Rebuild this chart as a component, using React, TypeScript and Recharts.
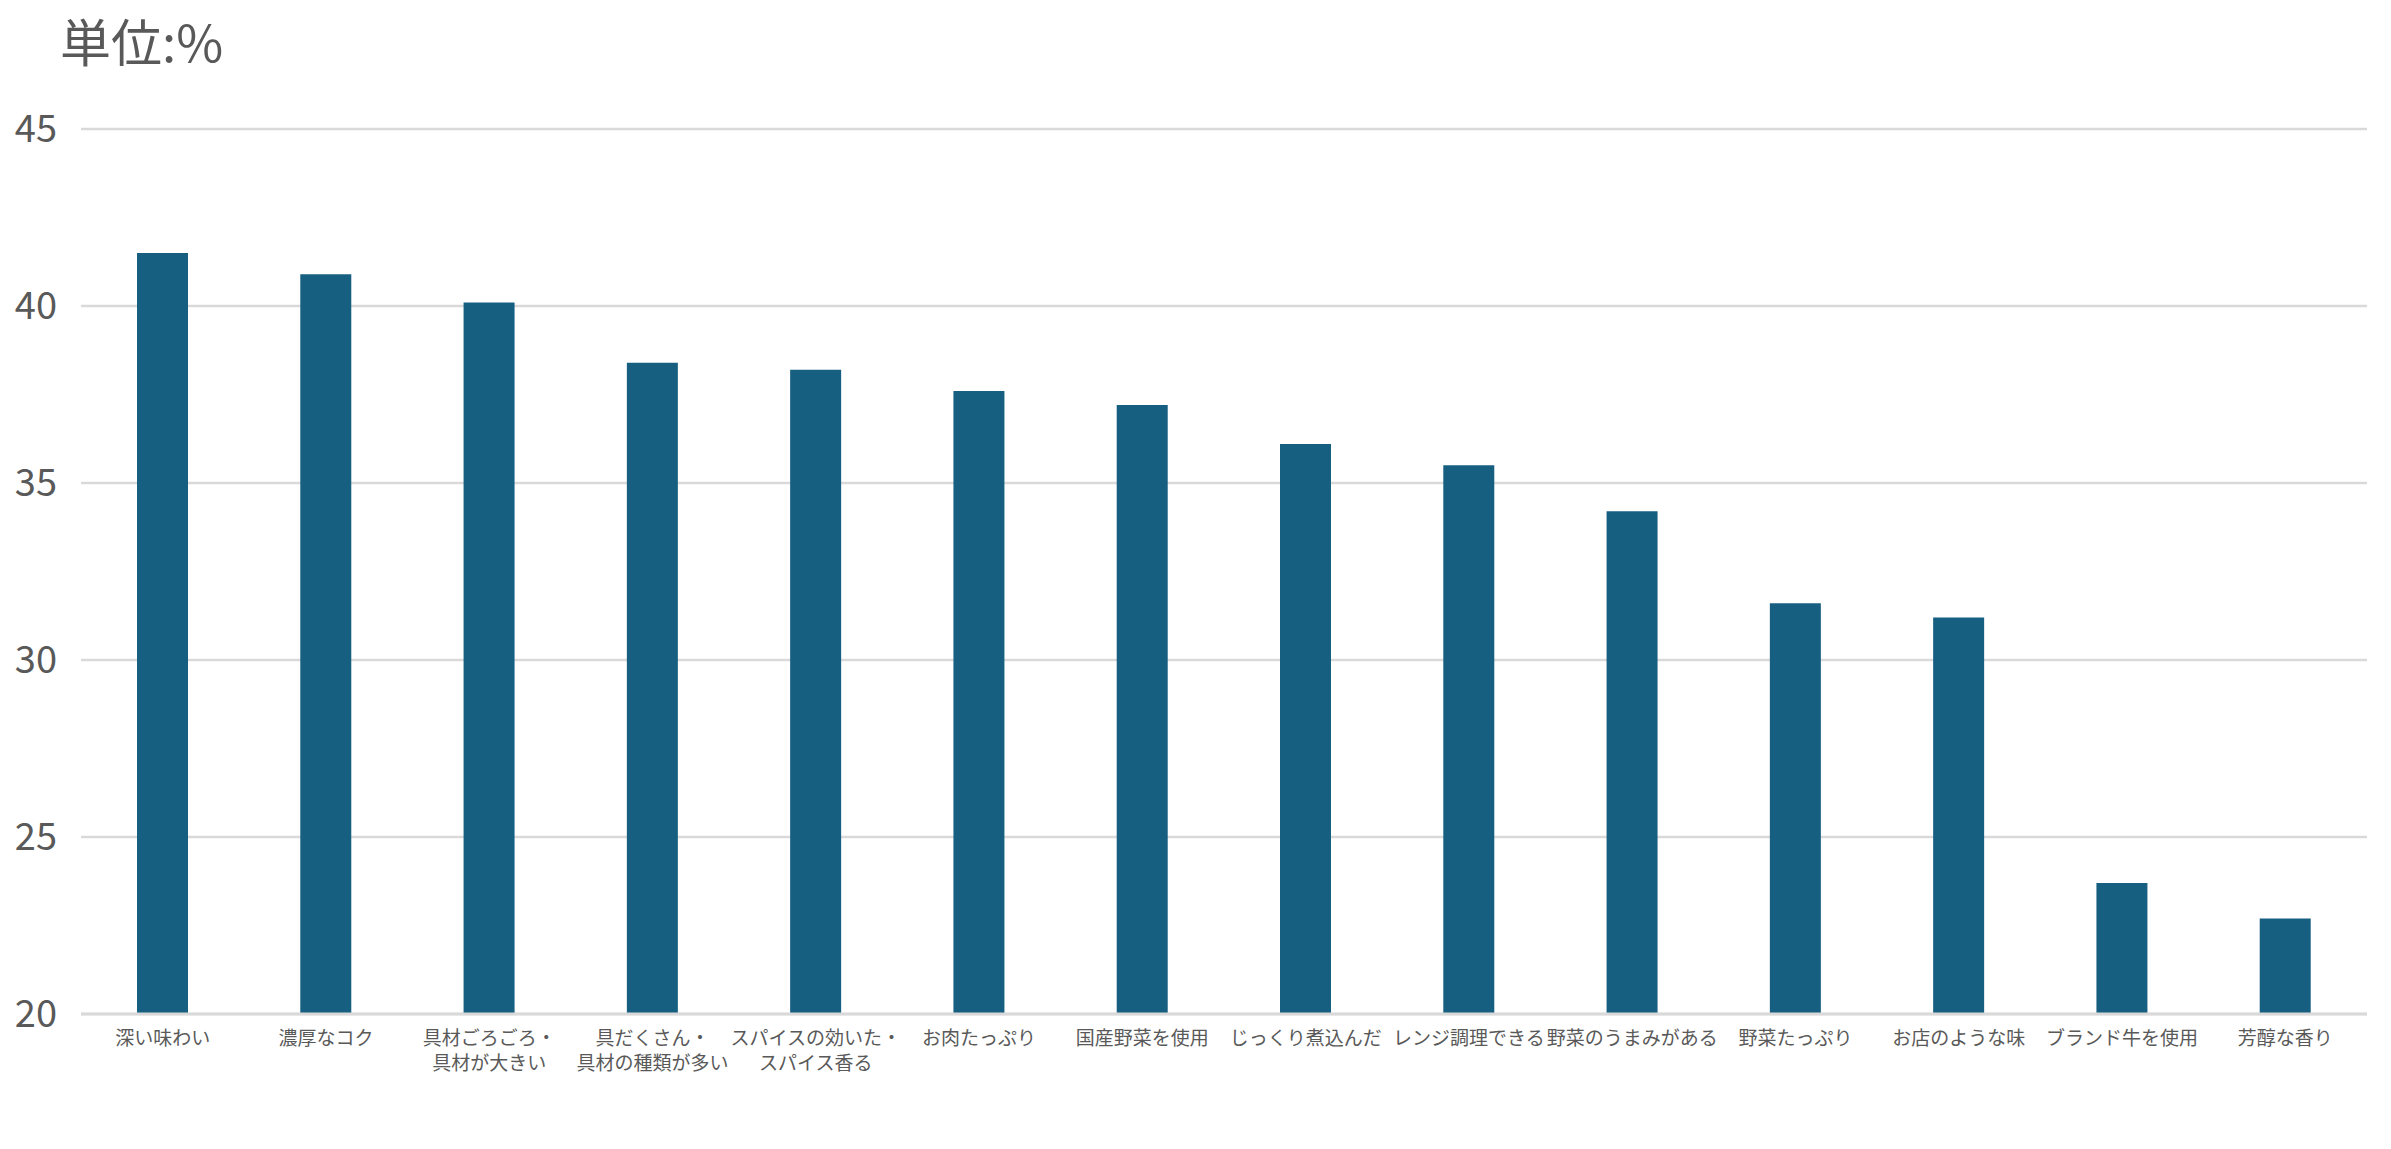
import { BarChart, Bar, XAxis, YAxis, CartesianGrid } from 'recharts'

const CATEGORIES = [
  '深い味わい',
  '濃厚なコク',
  '具材ごろごろ・\n具材が大きい',
  '具だくさん・\n具材の種類が多い',
  'スパイスの効いた・\nスパイス香る',
  'お肉たっぷり',
  '国産野菜を使用',
  'じっくり煮込んだ',
  'レンジ調理できる',
  '野菜のうまみがある',
  '野菜たっぷり',
  'お店のような味',
  'ブランド牛を使用',
  '芳醇な香り',
]

const VALUES = [41.5, 40.9, 40.1, 38.4, 38.2, 37.6, 37.2, 36.1, 35.5, 34.2, 31.6, 31.2, 23.7, 22.7]

const Y_TICKS = [20, 25, 30, 35, 40, 45]

const data = CATEGORIES.map((name, i) => ({ name, value: VALUES[i] }))

const FONT = '"Noto Sans CJK JP", "Noto Sans", sans-serif'
const TEXT = '#595959'

function CategoryTick({ x, y, payload }: any) {
  const lines = String(payload.value).split('\n')
  return (
    <text x={x} y={y + 23} textAnchor="middle" fill={TEXT} fontSize={19} fontFamily={FONT}>
      {lines.map((line, i) => (
        <tspan key={i} x={x} dy={i === 0 ? 0 : 25}>{line}</tspan>
      ))}
    </text>
  )
}

export default function App() {
  return (
    <div style={{ position: 'relative', width: 2375, height: 1130 }}>
      <div style={{
        position: 'absolute', left: 52, top: 0, fontFamily: FONT, fontSize: 51,
        color: TEXT, lineHeight: '64px',
      }}>単位:%</div>
      <BarChart width={2375} height={1130} data={data}
        margin={{ top: 121, right: 16, left: 0, bottom: 94 }}>
        <CartesianGrid vertical={false} stroke="#d9d9d9" strokeWidth={2.5} />
        <XAxis dataKey="name" interval={0} tickLine={false}
          axisLine={{ stroke: '#d9d9d9', strokeWidth: 3 }}
          tick={<CategoryTick />} />
        <YAxis domain={[20, 45]} ticks={Y_TICKS} width={73} axisLine={false} tickLine={false}
          tickSize={0} tickMargin={24}
          tick={{ fill: TEXT, fontSize: 38, fontFamily: FONT }} />
        <Bar dataKey="value" fill="#175f81" barSize={51} isAnimationActive={false} />
      </BarChart>
    </div>
  )
}
